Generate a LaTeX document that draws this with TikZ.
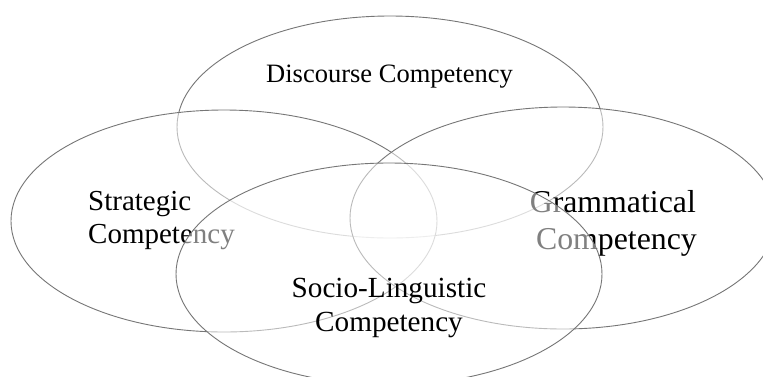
\documentclass[tikz,border=0pt]{standalone}
\usepackage{fontspec}
\setmainfont{Liberation Serif}
\usetikzlibrary{shapes.geometric}
\definecolor{ringgray}{RGB}{118,118,118}
\tikzset{
  ring/.style={ellipse, draw=ringgray, line width=0.9pt, fill=white, fill opacity=0.5, draw opacity=1,
    minimum width=426pt, minimum height=222pt, inner sep=0pt},
  lbl/.style={inner sep=0pt, text=black, text opacity=1}
}
\begin{document}
\begin{tikzpicture}[x=1pt,y=-1pt]
\clip (0,0) rectangle (763,376);
\fill[white] (0,0) rectangle (763,376);
% top
\node[ring] (disc) at (390,127) {};
\node[lbl, anchor=base, font=\fontsize{26.5pt}{30pt}\selectfont] (disctxt) at (389.5,82) {Discourse Competency};
% left
\node[ring] (strat) at (224,221) {};
\node[lbl, anchor=base west, font=\fontsize{29pt}{33pt}\selectfont] (strattxta) at (88,210) {Strategic};
\node[lbl, anchor=base west, font=\fontsize{29pt}{33pt}\selectfont] (strattxtb) at (88,243) {Competency};
% right
\node[ring] (gram) at (563,218) {};
\node[lbl, anchor=base east, font=\fontsize{31.8pt}{36pt}\selectfont] (gramtxta) at (696,212) {Grammatical};
\node[lbl, anchor=base east, font=\fontsize{31.8pt}{36pt}\selectfont] (gramtxtb) at (697,249) {Competency};
% bottom
\node[ring] (socio) at (389,274) {};
\node[lbl, anchor=base, font=\fontsize{29.2pt}{33pt}\selectfont] (sociotxta) at (389,297) {Socio-Linguistic};
\node[lbl, anchor=base, font=\fontsize{29.2pt}{33pt}\selectfont] (sociotxtb) at (389,331) {Competency};
\end{tikzpicture}
\end{document}
